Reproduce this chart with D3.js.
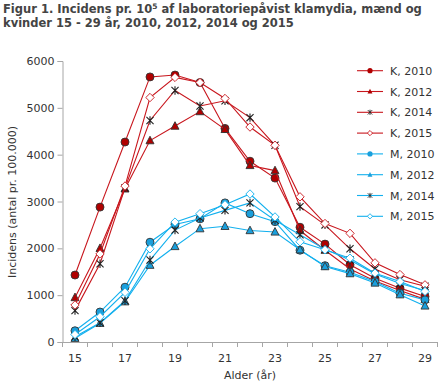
<!DOCTYPE html>
<html><head><meta charset="utf-8">
<script src="https://cdn.jsdelivr.net/npm/d3@7"></script>
<style>body{margin:0;background:#fff}svg{display:block}</style>
</head><body>
<script>
const ages = [15,16,17,18,19,20,21,22,23,24,25,26,27,28,29];
const tickLabels = [15,17,19,21,23,25,27,29];
const yTicks = [0,1000,2000,3000,4000,5000,6000];
const seriesNames = ["K, 2010","K, 2012","K, 2014","K, 2015","M, 2010","M, 2012","M, 2014","M, 2015"];
const k2010 = [1430,2880,4270,5660,5700,5540,4560,3860,3500,2450,2090,1650,1360,1150,970];
const k2012 = [950,2000,3270,4300,4610,4920,4540,3770,3660,2380,1960,1560,1300,1100,910];
const k2014 = [670,1670,3290,4730,5370,5040,5150,4790,4200,2890,2500,1990,1560,1330,1190];
const k2015 = [790,1880,3330,5220,5650,5540,5200,4590,4200,3100,2530,2320,1690,1440,1220];
const m2010 = [240,640,1170,2130,2510,2630,2970,2740,2570,1960,1630,1490,1290,1040,900];
const m2012 = [80,400,860,1640,2040,2420,2470,2380,2350,1970,1610,1460,1260,1010,770];
const m2014 = [110,410,880,1750,2390,2650,2810,2970,2600,2290,1980,1750,1450,1250,1100];
const m2015 = [160,540,1060,1990,2560,2740,2930,3160,2670,2140,1970,1790,1470,1290,1080];
const allValues = [k2010,k2012,k2014,k2015,m2010,m2012,m2014,m2015];

const W=440,H=385;
const svg=d3.select("body").append("svg").attr("width",W).attr("height",H)
  .style("font-family","'DejaVu Sans', Verdana, sans-serif");

const x=d3.scaleBand().domain(ages).range([62.5,437.5]).padding(0);
const y=d3.scaleLinear().domain([0,6000]).range([342,61]);
const cx=a=>x(a)+x.bandwidth()/2;

// title
const title=svg.append("text").attr("x",3).attr("fill","#444").attr("font-weight","bold").attr("font-size","11.5px");
const t1=title.append("tspan").attr("x",3).attr("y",13);
t1.append("tspan").text("Figur 1. Incidens pr. 10");
t1.append("tspan").text("5").attr("font-size","7.5px").attr("dy",-4);
t1.append("tspan").text(" af laboratoriepåvist klamydia, mænd og").attr("dy",4);
title.append("tspan").attr("x",3).attr("y",27).text("kvinder 15 - 29 år, 2010, 2012, 2014 og 2015");

const axisCol="#a6a6a6", txtCol="#333";
// y axis
const ya=svg.append("g").attr("transform","translate(62.5,0)")
  .call(d3.axisLeft(y).tickValues(yTicks).tickFormat(d3.format("d")).tickSize(5).tickPadding(3));
ya.select(".domain").attr("stroke",axisCol);
ya.selectAll(".tick line").attr("stroke",axisCol);
ya.selectAll("text").attr("fill",txtCol).attr("font-size","11px").attr("font-family","'DejaVu Sans', Verdana, sans-serif");

// x axis
const xa=svg.append("g");
xa.append("line").attr("x1",62.5).attr("x2",437.5).attr("y1",y(0)+0.5).attr("y2",y(0)+0.5).attr("stroke",axisCol);
const bounds=ages.map(a=>x(a)).concat([x(ages[ages.length-1])+x.bandwidth()]);
xa.selectAll("line.t").data(bounds).join("line").attr("class","t")
  .attr("x1",d=>d).attr("x2",d=>d).attr("y1",y(0)).attr("y2",y(0)+5).attr("stroke",axisCol);
xa.selectAll("text").data(tickLabels).join("text").attr("x",d=>cx(d)).attr("y",362)
  .attr("text-anchor","middle").attr("fill",txtCol).attr("font-size","11px").text(d=>d);

svg.append("text").attr("x",250).attr("y",379).attr("text-anchor","middle").attr("fill",txtCol).attr("font-size","11px").text("Alder (år)");
svg.append("text").attr("transform","translate(16,202) rotate(-90)").attr("text-anchor","middle").attr("fill",txtCol).attr("font-size","11px").text("Incidens (antal pr. 100.000)");

const red="#c8161d", blue="#12b0ee";
const styles=[
 {c:red,m:"circle",f:"#b00000",s:"#333"},
 {c:red,m:"triangle",f:"#b00000",s:"#333"},
 {c:red,m:"star",f:"none",s:"#222"},
 {c:red,m:"diamond",f:"#fff",s:red},
 {c:blue,m:"circle",f:"#1a9fdc",s:"#333"},
 {c:blue,m:"triangle",f:"#1a9fdc",s:"#333"},
 {c:blue,m:"star",f:"none",s:"#222"},
 {c:blue,m:"diamond",f:"#fff",s:blue}
];
function markerPath(m,s){
  if(m==="circle") return d3.symbol(d3.symbolCircle,Math.PI*s*s)();
  if(m==="triangle") return `M0,${-s*1.05}L${s*0.95},${s*0.75}L${-s*0.95},${s*0.75}Z`;
  if(m==="diamond") return `M0,${-s}L${s},0L0,${s}L${-s},0Z`;
  const a=s*0.85;
  return `M0,${-s}L0,${s}M${-a},${-a}L${a},${a}M${-a},${a}L${a},${-a}`;
}
const line=d3.line().x((d,i)=>cx(ages[i])).y(d=>y(d));
allValues.forEach((vals,si)=>{
  const st=styles[si];
  const g=svg.append("g");
  g.append("path").datum(vals).attr("d",line).attr("fill","none").attr("stroke",st.c).attr("stroke-width",1.1);
  g.selectAll("path.m").data(vals).join("path").attr("class","m")
    .attr("transform",(d,i)=>`translate(${cx(ages[i])},${y(d)})`)
    .attr("d",markerPath(st.m,st.m==="circle"?4:4.2))
    .attr("fill",st.f).attr("stroke",st.s).attr("stroke-width",st.m==="star"?1.1:0.9);
});

// legend
const lg=svg.append("g");
seriesNames.forEach((n,i)=>{
  const st=styles[i];
  const yy=70.7+i*20.8;
  lg.append("line").attr("x1",357).attr("x2",383).attr("y1",yy).attr("y2",yy).attr("stroke",st.c).attr("stroke-width",1.1);
  lg.append("path").attr("transform",`translate(370,${yy})`).attr("d",markerPath(st.m,2.6))
    .attr("fill",st.f).attr("stroke",st.m==="star"?"#222":(st.m==="diamond"?st.s:"none")).attr("stroke-width",0.9);
  lg.append("text").attr("x",390).attr("y",yy+4).attr("fill",txtCol).attr("font-size","11px").text(n);
});
</script>
</body></html>
